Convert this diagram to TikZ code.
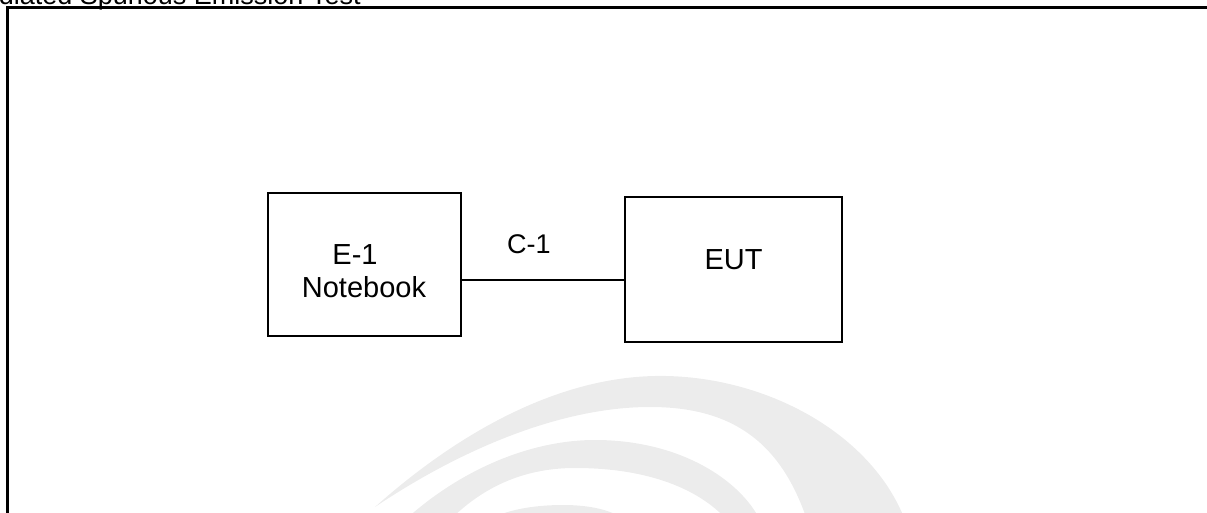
\documentclass[tikz,border=0pt]{standalone}
\usepackage{fontspec}
\setmainfont{Liberation Sans}
\definecolor{wmgray}{RGB}{236,236,236}

\begin{document}
\begin{tikzpicture}[x=0.5pt,y=-0.5pt,
  every node/.style={font=\fontsize{13.5}{16.5}\selectfont,inner sep=0pt},
  boxtext/.style={font=\fontsize{14.5}{16.5}\selectfont},
  unit/.style={draw,line width=1pt},
  cable/.style={line width=1pt},
  frame/.style={line width=1.25pt},
  swoosh/.style={fill=wmgray,draw=none}]
  \useasboundingbox (0,0) rectangle (1207,513);
  \clip (0,0) rectangle (1207,513);
  % watermark
  \fill[swoosh] (375,507) .. controls (450,440) and (550,378) .. (655,376)
    .. controls (760,374) and (870,430) .. (905,520) -- (807,520)
    .. controls (780,440) and (730,407) .. (650,407)
    .. controls (560,407) and (460,450) .. (375,507) -- cycle;
  \fill[swoosh] (405,520) .. controls (460,470) and (530,440) .. (595,440)
    .. controls (680,440) and (740,480) .. (760,520) -- (727,520)
    .. controls (700,490) and (650,468) .. (575,468)
    .. controls (520,468) and (480,490) .. (450,520) -- cycle;
  \fill[swoosh] (488,520) .. controls (510,508) and (540,505) .. (563,505)
    .. controls (590,505) and (612,510) .. (625,520) -- cycle;
  \node[anchor=base west] (title) at (-36,5) {Radiated Spurious Emission Test};
  \draw[frame] (7.7,530) -- (7.7,7.7) -- (1220,7.7);
  \node[unit,minimum width=96.5pt,minimum height=71.5pt] (notebook) at (364.5,264.5) {};
  \node[unit,minimum width=108.5pt,minimum height=72.5pt] (eut) at (733.5,269.5) {};
  \node[boxtext,align=center] (notebooktxt) at (364,271.5) {E-1\hspace*{9pt}\\Notebook};
  \node[boxtext] (euttxt) at (733.5,259.5) {EUT};
  \coordinate (cab) at (0,280);
  \draw[cable] (notebook.east |- cab) -- (eut.west |- cab);
  \node (c1) at (529,244) {C-1};
\end{tikzpicture}
\end{document}
